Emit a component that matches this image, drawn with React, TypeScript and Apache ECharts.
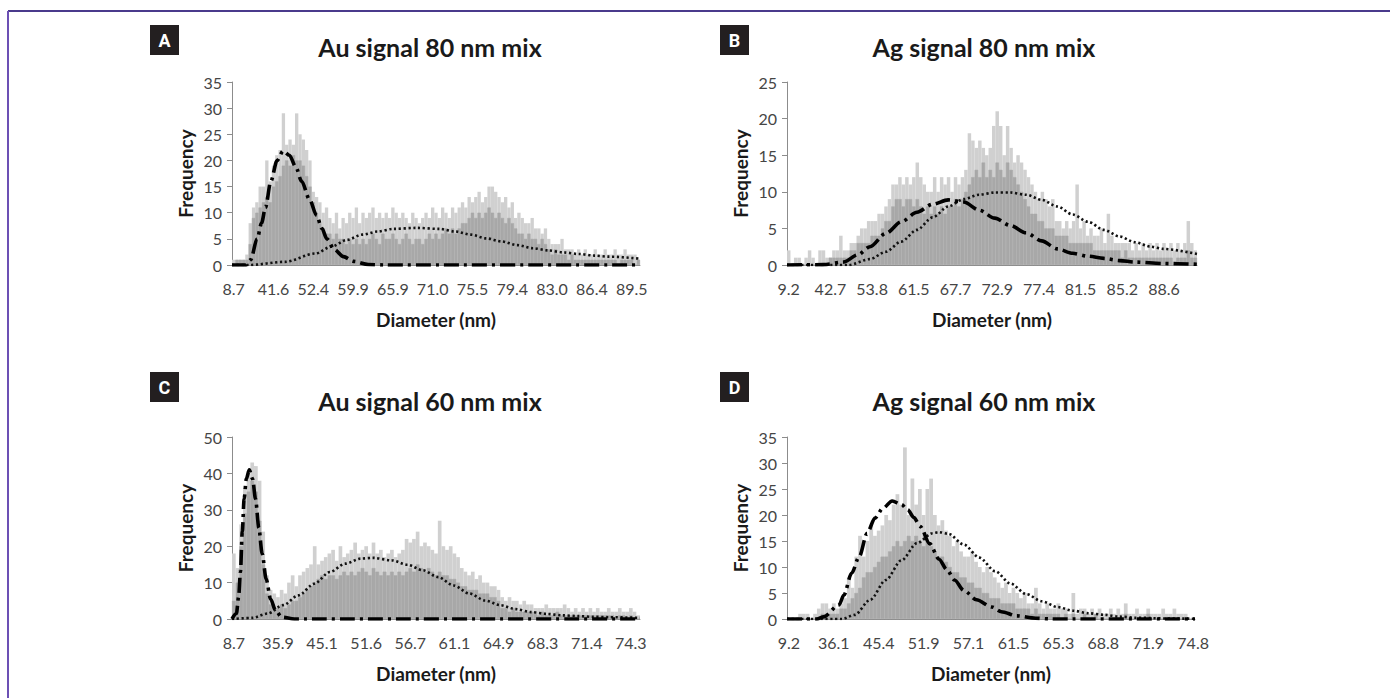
import React, { useEffect, useRef } from "react";
import * as echarts from "echarts";

// ---------- tick labels ----------
const A_TICKS = ["8.7", "41.6", "52.4", "59.9", "65.9", "71.0", "75.5", "79.4", "83.0", "86.4", "89.5"];
const B_TICKS = ["9.2", "42.7", "53.8", "61.5", "67.7", "72.9", "77.4", "81.5", "85.2", "88.6"];
const C_TICKS = ["8.7", "35.9", "45.1", "51.6", "56.7", "61.1", "64.9", "68.3", "71.4", "74.3"];
const D_TICKS = ["9.2", "36.1", "45.4", "51.9", "57.1", "61.5", "65.3", "68.8", "71.9", "74.8"];

// ---------- histogram frequencies (body = typical height, peak = tallest bar in the bin) ----------
const A_BODY = [
  0, 1, 1, 1, 1, 4, 9, 10, 11, 12,
  13, 12, 15, 16, 17, 19, 20, 19, 21, 20,
  20, 19, 17, 15, 12, 10, 8, 7, 6, 6,
  5, 6, 5, 5, 4, 5, 4, 5, 4, 5,
  4, 5, 6, 5, 4, 6, 5, 5, 6, 5,
  4, 5, 6, 5, 4, 5, 5, 4, 5, 6,
  5, 6, 5, 6, 7, 6, 7, 6, 7, 8,
  8, 9, 10, 9, 10, 9, 10, 11, 10, 9,
  10, 9, 8, 9, 8, 7, 6, 6, 5, 6,
  5, 5, 4, 5, 4, 3, 2, 3, 2, 2,
  2, 1, 2, 1, 1, 1, 1, 1, 1, 1,
  1, 1, 1, 1, 1, 1, 0, 1, 1, 1,
  1, 0, 1,
];
const A_PEAK = [
  1, 1, 1, 1, 2, 8, 11, 12, 15, 15,
  20, 16, 19, 21, 22, 29, 23, 24, 23, 29,
  25, 24, 22, 20, 14, 13, 12, 10, 11, 9,
  8, 10, 7, 9, 8, 10, 9, 11, 8, 10,
  9, 10, 11, 9, 10, 9, 10, 9, 11, 10,
  9, 10, 9, 8, 10, 9, 8, 9, 10, 9,
  11, 10, 9, 11, 10, 9, 11, 10, 11, 12,
  11, 13, 12, 13, 14, 12, 13, 15, 15, 14,
  13, 12, 13, 11, 12, 9, 10, 9, 8, 8,
  9, 7, 7, 6, 7, 5, 4, 4, 4, 5,
  3, 3, 3, 2, 3, 2, 3, 2, 2, 3,
  2, 2, 3, 2, 2, 3, 2, 2, 3, 2,
  2, 2, 1,
];
const B_BODY = [
  0, 0, 0, 0, 0, 0, 0, 0, 0, 0,
  0, 0, 1, 1, 1, 1, 1, 1, 2, 2,
  3, 3, 3, 3, 4, 4, 4, 5, 6, 6,
  8, 9, 9, 8, 9, 9, 8, 9, 8, 7,
  8, 7, 8, 7, 8, 7, 8, 8, 9, 8,
  9, 10, 11, 12, 13, 12, 14, 12, 13, 12,
  14, 13, 12, 14, 13, 12, 11, 10, 9, 8,
  7, 7, 6, 6, 5, 5, 5, 4, 4, 4,
  4, 3, 3, 3, 3, 3, 3, 3, 2, 2,
  2, 2, 2, 2, 2, 2, 1, 2, 1, 1,
  1, 1, 1, 1, 1, 1, 1, 1, 1, 1,
  1, 0, 1, 1, 1, 2, 1, 1,
];
const B_PEAK = [
  2, 0, 1, 1, 0, 1, 2, 1, 0, 2,
  2, 1, 1, 2, 2, 4, 2, 2, 3, 3,
  4, 5, 5, 6, 6, 6, 7, 7, 8, 9,
  11, 11, 12, 11, 12, 11, 12, 14, 12, 11,
  10, 10, 12, 10, 12, 11, 12, 10, 12, 11,
  12, 13, 18, 17, 16, 17, 16, 15, 16, 19,
  21, 19, 15, 19, 16, 14, 15, 14, 13, 12,
  11, 10, 9, 10, 9, 8, 9, 6, 6, 5,
  6, 5, 6, 11, 5, 6, 4, 5, 4, 4,
  5, 3, 7, 4, 3, 3, 3, 3, 3, 2,
  3, 2, 3, 2, 3, 2, 3, 2, 3, 2,
  3, 2, 3, 2, 3, 6, 3, 2,
];
const C_BODY = [
  5, 10, 20, 29, 35, 38, 35, 27, 15, 7,
  4, 3, 3, 4, 3, 4, 5, 5, 6, 7,
  8, 9, 10, 11, 12, 11, 12, 12, 11, 12,
  13, 12, 13, 12, 13, 14, 13, 12, 14, 13,
  12, 13, 12, 13, 12, 13, 12, 13, 14, 13,
  15, 14, 13, 14, 13, 12, 13, 12, 12, 11,
  11, 10, 9, 9, 8, 8, 8, 7, 7, 7,
  6, 6, 5, 3, 3, 2, 3, 2, 2, 2,
  2, 2, 2, 1, 2, 1, 1, 1, 2, 1,
  1, 1, 1, 1, 1, 1, 1, 1, 1, 1,
  1, 1, 1, 1, 0, 1, 1, 0, 1, 0, 0,
];
const C_PEAK = [
  18, 14, 26, 36, 40, 43, 42, 38, 24, 12,
  8, 7, 6, 8, 7, 10, 12, 9, 12, 13,
  14, 15, 20, 15, 16, 17, 18, 19, 16, 20,
  17, 18, 19, 21, 18, 19, 20, 18, 21, 18,
  19, 17, 18, 19, 17, 18, 19, 22, 21, 22,
  24, 20, 21, 20, 19, 18, 27, 20, 19, 20,
  18, 17, 14, 13, 12, 13, 11, 12, 10, 10,
  9, 9, 8, 6, 5, 6, 5, 5, 4, 5,
  4, 4, 3, 3, 3, 4, 3, 3, 3, 3,
  4, 3, 2, 3, 2, 3, 2, 3, 2, 3,
  2, 2, 3, 2, 2, 3, 2, 2, 3, 2, 1,
];
const D_BODY = [
  0, 0, 0, 0, 0, 0, 0, 0, 0, 1,
  1, 1, 1, 1, 2, 2, 3, 4, 5, 6,
  8, 9, 9, 10, 11, 12, 12, 13, 14, 15,
  14, 15, 16, 15, 16, 15, 14, 15, 14, 13,
  12, 12, 11, 10, 9, 9, 8, 8, 7, 7,
  6, 6, 5, 5, 4, 4, 4, 3, 3, 3,
  3, 2, 2, 2, 2, 1, 2, 1, 1, 1,
  1, 1, 1, 0, 1, 0, 1, 0, 0, 1,
  0, 0, 1, 0, 0, 0, 0, 0, 0, 0,
  1, 0, 0, 0, 0, 0, 1, 0, 0, 0,
  0, 0, 0, 0, 0, 0, 0, 0, 0,
];
const D_PEAK = [
  0, 0, 0, 1, 1, 1, 0, 1, 2, 3,
  3, 2, 3, 2, 3, 4, 8, 6, 12, 16,
  12, 15, 18, 16, 17, 18, 20, 19, 22, 24,
  22, 33, 20, 27, 22, 25, 20, 25, 27, 20,
  18, 19, 17, 16, 14, 15, 13, 12, 12, 13,
  11, 10, 9, 10, 9, 8, 7, 6, 7, 5,
  6, 5, 4, 5, 3, 3, 6, 3, 2, 3,
  2, 2, 3, 2, 2, 1, 5, 1, 2, 2,
  1, 2, 1, 2, 1, 1, 2, 1, 2, 1,
  3, 1, 1, 2, 1, 1, 2, 1, 1, 1,
  2, 1, 1, 2, 1, 1, 1, 0, 0,
];

// ---------- fitted curves, [position in bins, frequency] ----------
const A_FIT_DASHDOT = [[0, 0], [4.2, 0], [5.6, 1], [7.6, 5], [8.9, 8], [10.1, 11], [11.7, 16], [13.6, 20], [15.4, 21.8], [17.3, 21], [19.2, 18.8], [21, 16], [23.4, 12.5], [25.5, 9.5], [27.1, 7], [28.6, 5], [30.8, 3], [33.6, 1.6], [36.7, 0.7], [41.1, 0.1], [45.8, 0], [123, 0]];
const A_FIT_DOTTED = [[0, 0], [5.1, 0], [15.9, 0.6], [25.2, 2.2], [29.9, 3.5], [34.6, 4.8], [39.3, 5.8], [43.9, 6.4], [48.6, 6.9], [55.6, 7.1], [62.6, 6.9], [67.3, 6.4], [72, 5.8], [76.6, 5.1], [81.3, 4.5], [86, 3.8], [90.7, 3.2], [95.3, 2.8], [100, 2.4], [104.7, 2.1], [109.3, 1.8], [113.6, 1.6], [123, 1.2]];
const B_FIT_DASHDOT = [[0, 0], [10.5, 0.05], [16.3, 0.4], [20.4, 1.4], [23.9, 2.5], [28.4, 4.3], [32.9, 5.9], [37.4, 7.2], [41.9, 8.3], [46.4, 8.9], [50.9, 8.6], [55.3, 7.5], [59.8, 6.4], [64.3, 5.4], [68.8, 4.4], [73.3, 3.3], [77.8, 2.2], [82.2, 1.6], [86.7, 1.2], [91.2, 0.9], [95.7, 0.6], [100.2, 0.4], [108.3, 0.2], [118, 0.1]];
const B_FIT_DOTTED = [[0, 0], [17.7, 0], [23.9, 0.8], [28.4, 1.8], [32.9, 3.2], [37.4, 4.8], [41.9, 6.5], [46.4, 8], [50.9, 9], [55.3, 9.6], [59.8, 9.9], [64.3, 9.9], [68.8, 9.6], [73.3, 8.9], [77.8, 8], [82.2, 6.9], [86.7, 5.9], [91.2, 4.8], [95.7, 3.9], [100.2, 3.1], [104.7, 2.5], [108.3, 2.2], [118, 1.5]];
const C_FIT_DASHDOT = [[0, 0], [1.2, 1.5], [1.8, 6], [2.3, 13], [2.8, 24], [3.3, 33], [3.9, 38.5], [4.7, 41], [5.6, 38.5], [6.4, 33], [7.3, 25], [8.2, 18], [9.3, 11], [10.5, 5.5], [11.8, 2.5], [13.5, 0.5], [17, 0], [111, 0]];
const C_FIT_DOTTED = [[0, 0], [5.5, 0.3], [9.7, 1.5], [13.9, 3.8], [18.1, 6.5], [22.4, 9.7], [26.6, 12.9], [30.8, 15.2], [35, 16.6], [38.4, 16.8], [43.5, 16.1], [47.7, 14.9], [51.9, 13.4], [56.1, 11.5], [60.3, 9.2], [64.6, 7], [68.8, 5.1], [73, 3.8], [77.2, 2.7], [81.4, 1.9], [85.7, 1.4], [89.9, 1], [94.1, 0.8], [98.3, 0.6], [102.4, 0.5], [111, 0.3]];
const D_FIT_DASHDOT = [[0, 0], [8, 0], [9.75, 0.4], [13.9, 2.7], [15.2, 4.6], [17.25, 8.8], [19.3, 12], [21.4, 16.5], [23.5, 19.4], [25.6, 21.3], [28.1, 22.7], [30.6, 22], [32.25, 21], [33.9, 19.5], [35.6, 17.8], [38.1, 14.5], [40.6, 11.5], [42.7, 9.5], [44.75, 7.5], [47.25, 5.5], [50.6, 3.7], [54.75, 2.3], [57.25, 1.4], [61.4, 0.6], [66.4, 0.15], [70.6, 0], [109, 0]];
const D_FIT_DOTTED = [[0, 0], [14.75, 0], [18.1, 0.8], [22.25, 3.7], [26.4, 7.5], [30.6, 11.3], [34.75, 14.6], [38.9, 16.5], [40.6, 16.7], [43.1, 16.4], [47.25, 14.3], [51.4, 11.8], [55.6, 9.2], [59.75, 6.8], [63.9, 4.8], [68.1, 3.4], [72.25, 2.3], [76.4, 1.6], [80.6, 1.1], [84.75, 0.8], [88.9, 0.45], [93.1, 0.25], [101.25, 0.1], [109, 0.05]];

const TITLES = ["Au signal 80 nm mix", "Ag signal 80 nm mix", "Au signal 60 nm mix", "Ag signal 60 nm mix"];
const LETTERS = ["A", "B", "C", "D"];
const Y_MAX = [35, 25, 50, 35];
const Y_STEP = [5, 5, 10, 5];
const BINS_PER_LABEL = 12;

const PANELS = [
  { ticks: A_TICKS, body: A_BODY, peak: A_PEAK, dd: A_FIT_DASHDOT, dot: A_FIT_DOTTED },
  { ticks: B_TICKS, body: B_BODY, peak: B_PEAK, dd: B_FIT_DASHDOT, dot: B_FIT_DOTTED },
  { ticks: C_TICKS, body: C_BODY, peak: C_PEAK, dd: C_FIT_DASHDOT, dot: C_FIT_DOTTED },
  { ticks: D_TICKS, body: D_BODY, peak: D_PEAK, dd: D_FIT_DASHDOT, dot: D_FIT_DOTTED },
];

// layout (pixels)
const GRIDS = [
  { left: 232, top: 82, width: 408, height: 183 },
  { left: 787, top: 82, width: 410, height: 183 },
  { left: 232, top: 437, width: 408, height: 182 },
  { left: 787, top: 437, width: 408, height: 182 },
];
const BOXES = [
  { x: 150, y: 25 },
  { x: 720, y: 25 },
  { x: 150, y: 372 },
  { x: 720, y: 372 },
];
const TITLE_POS = [
  { x: 430, y: 47 },
  { x: 984, y: 47 },
  { x: 430, y: 401 },
  { x: 984, y: 401 },
];

const AXIS_COLOR = "#8c8c8c";
const LABEL_COLOR = "#454545";
const FONT = "Lato, 'Open Sans', sans-serif";

export default function App() {
  const ref = useRef<HTMLDivElement>(null);

  useEffect(() => {
    document.body.style.margin = "0";
    if (!ref.current) return;
    const chart = echarts.init(ref.current, undefined, { renderer: "svg" });

    const xAxis: any[] = [];
    const yAxis: any[] = [];
    const series: any[] = [];
    const grid: any[] = [];

    PANELS.forEach((p, i) => {
      const n = p.body.length;
      grid.push({ ...GRIDS[i], containLabel: false });
      xAxis.push({
        type: "category",
        gridIndex: i,
        data: p.body.map((_, k) => String(k)),
        boundaryGap: true,
        axisLine: { lineStyle: { color: AXIS_COLOR, width: 1 } },
        axisTick: { interval: BINS_PER_LABEL - 1, alignWithLabel: true, length: 5, lineStyle: { color: AXIS_COLOR } },
        axisLabel: {
          interval: BINS_PER_LABEL - 1,
          formatter: (_v: string, idx: number) =>
            idx % BINS_PER_LABEL === 0 ? p.ticks[idx / BINS_PER_LABEL] ?? "" : "",
          color: LABEL_COLOR,
          fontFamily: FONT,
          fontSize: 16,
          margin: 15,
        },
        splitLine: { show: false },
        name: "Diameter (nm)",
        nameLocation: "middle",
        nameGap: 45,
        nameTextStyle: { fontFamily: FONT, fontWeight: "bold", fontSize: 19, color: "#1a1a1a" },
      });
      xAxis.push({ type: "value", gridIndex: i, min: 0, max: n, show: false });
      yAxis.push({
        type: "value",
        gridIndex: i,
        min: 0,
        max: Y_MAX[i],
        interval: Y_STEP[i],
        splitLine: { show: false },
        axisLine: { show: true, lineStyle: { color: AXIS_COLOR, width: 1 } },
        axisTick: { show: true, length: 5, lineStyle: { color: AXIS_COLOR } },
        axisLabel: { color: LABEL_COLOR, fontFamily: FONT, fontSize: 16, margin: 10 },
        name: "Frequency",
        nameLocation: "middle",
        nameGap: 37,
        nameTextStyle: { fontFamily: FONT, fontWeight: "bold", fontSize: 19, color: "#1a1a1a" },
      });
      series.push({
        type: "bar",
        xAxisIndex: 2 * i,
        yAxisIndex: i,
        data: p.peak,
        barCategoryGap: "0%",
        barGap: "-100%",
        itemStyle: { color: "#d0d0d0" },
        silent: true,
      });
      series.push({
        type: "bar",
        xAxisIndex: 2 * i,
        yAxisIndex: i,
        data: p.body,
        barCategoryGap: "0%",
        barGap: "-100%",
        itemStyle: { color: "#a8a8a8", borderColor: "#a8a8a8", borderWidth: 0.5 },
        silent: true,
      });
      series.push({
        type: "line",
        xAxisIndex: 2 * i + 1,
        yAxisIndex: i,
        data: p.dot,
        showSymbol: false,
        smooth: 0.3,
        smoothMonotone: "x",
        lineStyle: { color: "#111", width: 2.6, type: [2.2, 2.6] },
        z: 4,
        silent: true,
      });
      series.push({
        type: "line",
        xAxisIndex: 2 * i + 1,
        yAxisIndex: i,
        data: p.dd,
        showSymbol: false,
        smooth: 0.3,
        smoothMonotone: "x",
        lineStyle: { color: "#000", width: 3.6, type: [15, 5, 3, 5] },
        z: 5,
        silent: true,
      });
    });

    const graphic: any[] = [
      { type: "line", shape: { x1: 8, y1: 11, x2: 1390, y2: 11 }, style: { stroke: "#4a3a8c", lineWidth: 2 } },
      { type: "line", shape: { x1: 8, y1: 11, x2: 8, y2: 698 }, style: { stroke: "#6c50b4", lineWidth: 2 } },
    ];
    LETTERS.forEach((L, i) => {
      graphic.push({
        type: "rect",
        shape: { x: BOXES[i].x, y: BOXES[i].y, width: 29, height: 30 },
        style: { fill: "#231f20" },
      });
      graphic.push({
        type: "text",
        x: BOXES[i].x + 14.5,
        y: BOXES[i].y + 15.5,
        style: {
          text: L,
          fill: "#ffffff",
          font: "bold 18px Roboto, sans-serif",
          textAlign: "center",
          textVerticalAlign: "middle",
        },
      });
      graphic.push({
        type: "text",
        x: TITLE_POS[i].x,
        y: TITLE_POS[i].y,
        style: {
          text: TITLES[i],
          fill: "#1a1a1a",
          font: `bold 25px ${FONT}`,
          textAlign: "center",
          textVerticalAlign: "middle",
        },
      });
    });

    chart.setOption({
      animation: false,
      backgroundColor: "#ffffff",
      grid,
      xAxis,
      yAxis,
      series,
      graphic,
    });

    return () => chart.dispose();
  }, []);

  return <div ref={ref} style={{ width: 1390, height: 698 }} />;
}
